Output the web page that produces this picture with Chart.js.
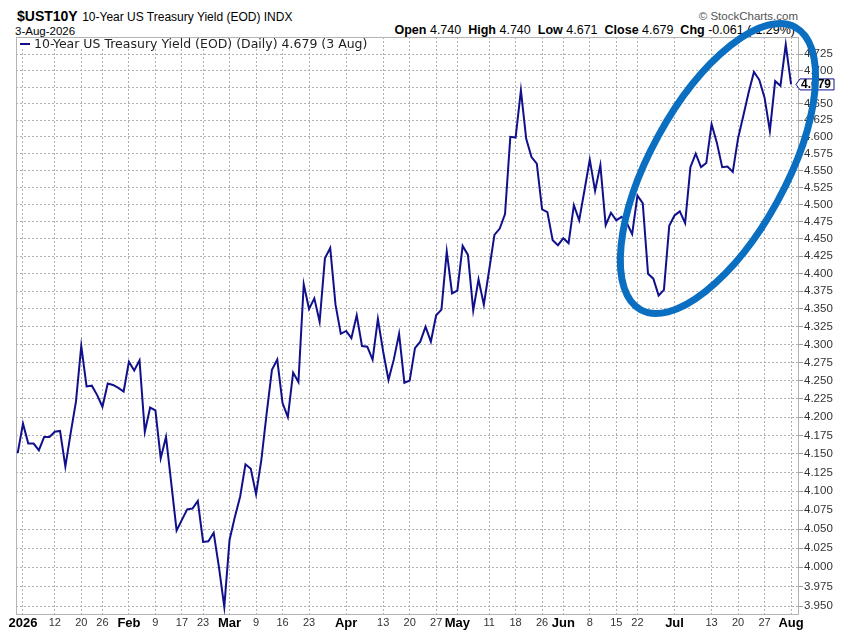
<!DOCTYPE html>
<html>
<head>
<meta charset="utf-8">
<title>$UST10Y</title>
<script src="https://cdn.jsdelivr.net/npm/chart.js@4.4.1/dist/chart.umd.min.js"></script>
<style>
    html, body { margin: 0; padding: 0; background: #fff; }
    .wrap { position: relative; width: 850px; height: 635px; font-family: "Liberation Sans", Arial, sans-serif; color: #000; overflow: hidden; }
    .wrap canvas { position: absolute; left: 0; top: 0; z-index: 1; }
    .head { position: absolute; white-space: nowrap; line-height: 16px; z-index: 0; }
    .sym { left: 17px; top: 8px; }
    .sym b { font-size: 14px; }
    .sym span { font-size: 12px; }
    .date { left: 15px; top: 23px; font-size: 11.5px; }
    .copy { right: 52px; top: 8px; font-size: 11.5px; color: #555; }
    .ohlc { right: 55px; top: 22px; font-size: 12.5px; }
    .ohlc span { margin-left: 7px; }
    .legend { position: absolute; left: 17px; top: 38px; height: 11px; line-height: 11px; padding-right: 4px;
              background: #fff; z-index: 2; white-space: nowrap; font-family: "DejaVu Sans", Verdana, sans-serif;
              font-size: 12.5px; color: #222; }
    .legend i { display: inline-block; width: 10px; height: 2px; background: #10108c; vertical-align: middle; margin: 0 4px 2px 3px; }
</style>
</head>
<body>
<div class="wrap">
    <div class="head sym"><b>$UST10Y</b> <span>10-Year US Treasury Yield (EOD) INDX</span></div>
    <div class="head date">3-Aug-2026</div>
    <div class="head copy">© StockCharts.com</div>
    <div class="head ohlc"><b>Open</b> 4.740<span><b>High</b> 4.740</span><span><b>Low</b> 4.671</span><span><b>Close</b> 4.679</span><span><b>Chg</b> -0.061 (-1.29%)</span></div>
    <div class="legend"><i></i>10-Year US Treasury Yield (EOD) (Daily) 4.679 (3 Aug)</div>
    <canvas class="chart" width="850" height="635"></canvas>
</div>
<script>
// trading days shown on the chart (bond market holidays skipped)
const dates = [
    "2025-12-31",
    "2026-01-02", "2026-01-05", "2026-01-06", "2026-01-07", "2026-01-08", "2026-01-09", "2026-01-12", "2026-01-13", "2026-01-14", "2026-01-15",
    "2026-01-16", "2026-01-20", "2026-01-21", "2026-01-22", "2026-01-23", "2026-01-26", "2026-01-27", "2026-01-28", "2026-01-29", "2026-01-30",
    "2026-02-02", "2026-02-03", "2026-02-04", "2026-02-05", "2026-02-06", "2026-02-09", "2026-02-10", "2026-02-11", "2026-02-12", "2026-02-13",
    "2026-02-17", "2026-02-18", "2026-02-19", "2026-02-20", "2026-02-23", "2026-02-24", "2026-02-25", "2026-02-26", "2026-02-27",
    "2026-03-02", "2026-03-03", "2026-03-04", "2026-03-05", "2026-03-06", "2026-03-09", "2026-03-10", "2026-03-11", "2026-03-12", "2026-03-13",
    "2026-03-16", "2026-03-17", "2026-03-18", "2026-03-19", "2026-03-20", "2026-03-23", "2026-03-24", "2026-03-25", "2026-03-26", "2026-03-27",
    "2026-03-30", "2026-03-31",
    "2026-04-01", "2026-04-02", "2026-04-06", "2026-04-07", "2026-04-08", "2026-04-09", "2026-04-10", "2026-04-13", "2026-04-14", "2026-04-15",
    "2026-04-16", "2026-04-17", "2026-04-20", "2026-04-21", "2026-04-22", "2026-04-23", "2026-04-24", "2026-04-27", "2026-04-28", "2026-04-29",
    "2026-04-30",
    "2026-05-01", "2026-05-04", "2026-05-05", "2026-05-06", "2026-05-07", "2026-05-08", "2026-05-11", "2026-05-12", "2026-05-13", "2026-05-14",
    "2026-05-15", "2026-05-18", "2026-05-19", "2026-05-20", "2026-05-21", "2026-05-22", "2026-05-26", "2026-05-27", "2026-05-28", "2026-05-29",
    "2026-06-01", "2026-06-02", "2026-06-03", "2026-06-04", "2026-06-05", "2026-06-08", "2026-06-09", "2026-06-10", "2026-06-11", "2026-06-12",
    "2026-06-15", "2026-06-16", "2026-06-17", "2026-06-18", "2026-06-22", "2026-06-23", "2026-06-24", "2026-06-25", "2026-06-26", "2026-06-29",
    "2026-06-30",
    "2026-07-01", "2026-07-02", "2026-07-06", "2026-07-07", "2026-07-08", "2026-07-09", "2026-07-10", "2026-07-13", "2026-07-14", "2026-07-15",
    "2026-07-16", "2026-07-17", "2026-07-20", "2026-07-21", "2026-07-22", "2026-07-23", "2026-07-24", "2026-07-27", "2026-07-28", "2026-07-29",
    "2026-07-30", "2026-07-31",
    "2026-08-03"
];

const yields = [
    4.151,
    4.191, 4.164, 4.164, 4.155, 4.173, 4.173, 4.180, 4.181, 4.133, 4.178,
    4.221, 4.298, 4.242, 4.243, 4.230, 4.214, 4.246, 4.244, 4.240, 4.235,
    4.276, 4.264, 4.278, 4.180, 4.213, 4.209, 4.144, 4.173, 4.110, 4.048,
    4.062, 4.076, 4.077, 4.087, 4.033, 4.034, 4.045, 4.000, 3.949,
    4.036, 4.066, 4.093, 4.136, 4.130, 4.096, 4.142, 4.205, 4.265, 4.279,
    4.219, 4.200, 4.261, 4.248, 4.385, 4.350, 4.365, 4.332, 4.422, 4.437,
    4.356, 4.315,
    4.319, 4.309, 4.341, 4.298, 4.297, 4.279, 4.336, 4.290, 4.251, 4.279,
    4.315, 4.247, 4.250, 4.295, 4.304, 4.325, 4.304, 4.341, 4.349, 4.432,
    4.372,
    4.376, 4.440, 4.427, 4.348, 4.392, 4.356, 4.405, 4.456, 4.465, 4.486,
    4.600, 4.599, 4.670, 4.597, 4.570, 4.560, 4.493, 4.489, 4.448, 4.441,
    4.451, 4.444, 4.499, 4.477, 4.521, 4.566, 4.520, 4.558, 4.470, 4.488,
    4.477, 4.482, 4.473, 4.457, 4.513, 4.502, 4.400, 4.393, 4.369, 4.377,
    4.469,
    4.484, 4.490, 4.473, 4.555, 4.575, 4.555, 4.561, 4.619, 4.591, 4.555,
    4.556, 4.548, 4.598, 4.632, 4.667, 4.698, 4.686, 4.659, 4.609, 4.684,
    4.677, 4.740,
    4.679
];

const tickDates = [
    "2026-01-02", "2026-01-12", "2026-01-20", "2026-01-26", "2026-02-02", "2026-02-09", "2026-02-17", "2026-02-23",
    "2026-03-02", "2026-03-09", "2026-03-16", "2026-03-23", "2026-04-01", "2026-04-13", "2026-04-20", "2026-04-27",
    "2026-05-01", "2026-05-11", "2026-05-18", "2026-05-26", "2026-06-01", "2026-06-08", "2026-06-15", "2026-06-22",
    "2026-07-01", "2026-07-13", "2026-07-20", "2026-07-27", "2026-08-03"
];
const tickLabels = [
    "2026", "12", "20", "26", "Feb", "9", "17", "23",
    "Mar", "9", "16", "23", "Apr", "13", "20", "27",
    "May", "11", "18", "26", "Jun", "8", "15", "22",
    "Jul", "13", "20", "27", "Aug"
];

const yTicks = [
    3.950, 3.975, 4.000, 4.025, 4.050, 4.075, 4.100, 4.125, 4.150, 4.175, 4.200, 4.225, 4.250, 4.275, 4.300, 4.325,
    4.350, 4.375, 4.400, 4.425, 4.450, 4.475, 4.500, 4.525, 4.550, 4.575, 4.600, 4.625, 4.650, 4.675, 4.700, 4.725
];

const FONT = "'Liberation Sans', Arial, sans-serif";
const NAVY = "#10108c";
const GRID = "#b0b0b0";
const isBold = l => !/^\d{1,2}$/.test(l);

const ctx = document.querySelector(".chart").getContext("2d");

// frame round the plot, last-price tag and the hand drawn ring
const overlay = {
    id: "overlay",
    beforeDatasetsDraw(chart) {
        const { ctx, chartArea: a } = chart;
        ctx.save();
        ctx.strokeStyle = "#b4b4b4";
        ctx.lineWidth = 1;
        ctx.strokeRect(a.left + 0.5, a.top + 0.5, a.right - a.left - 1, a.bottom - a.top - 1);
        ctx.restore();
    },
    afterDraw(chart) {
        const { ctx, chartArea: a, scales } = chart;
        const last = yields[yields.length - 1];
        const y = scales.y.getPixelForValue(last);
        const r = a.right;

        ctx.save();
        ctx.beginPath();
        ctx.moveTo(r - 3, y);
        ctx.lineTo(r + 1, y - 5.5);
        ctx.lineTo(r + 35, y - 5.5);
        ctx.lineTo(r + 35, y + 5.5);
        ctx.lineTo(r + 1, y + 5.5);
        ctx.closePath();
        ctx.fillStyle = "#fff";
        ctx.fill();
        ctx.strokeStyle = NAVY;
        ctx.lineWidth = 1;
        ctx.stroke();
        ctx.fillStyle = "#000";
        ctx.font = "bold 12px " + FONT;
        ctx.textBaseline = "middle";
        ctx.fillText(last.toFixed(3), r + 2, y + 0.5);

        // ring round the July climb
        const cx = scales.x.getPixelForValue(132.2);
        const cy = scales.y.getPixelForValue(4.553);
        ctx.beginPath();
        ctx.ellipse(cx, cy, 161, 68, -61.3 * Math.PI / 180, 0, Math.PI * 2);
        ctx.strokeStyle = "#0a6fc0";
        ctx.lineWidth = 7;
        ctx.stroke();
        ctx.restore();
    }
};

new Chart(ctx, {
    type: "line",
    data: {
        datasets: [{
            label: "10-Year US Treasury Yield (EOD) (Daily)",
            data: yields.map((v, i) => ({ x: i, y: v })),
            borderColor: NAVY,
            borderWidth: 2,
            pointRadius: 0,
            tension: 0
        }]
    },
    options: {
        responsive: false,
        animation: false,
        layout: { padding: { left: 16, top: 37, right: 0, bottom: 0 } },
        plugins: { legend: { display: false }, tooltip: { enabled: false } },
        scales: {
            x: {
                type: "linear",
                min: -0.32,
                max: 147.5,
                afterBuildTicks: s => { s.ticks = tickDates.map(d => ({ value: dates.indexOf(d) })); },
                afterFit: s => { s.height = 20; },
                ticks: {
                    autoSkip: false,
                    maxRotation: 0,
                    padding: 1,
                    color: c => isBold(tickLabels[c.index]) ? "#000" : "#333",
                    font: c => isBold(tickLabels[c.index])
                        ? { family: FONT, size: 13, weight: "bold" }
                        : { family: FONT, size: 11 },
                    callback: (v, i) => tickLabels[i]
                },
                grid: { color: GRID, lineWidth: 1, drawTicks: false },
                border: { display: false, dash: [2, 2] }
            },
            y: {
                type: "logarithmic",
                position: "right",
                min: 3.9385,
                max: 4.7516,
                afterBuildTicks: s => { s.ticks = yTicks.map(v => ({ value: v })); },
                afterFit: s => { s.width = 51; },
                ticks: {
                    autoSkip: false,
                    padding: 1,
                    color: "#333",
                    font: { family: FONT, size: 11.5 },
                    callback: v => Number(v).toFixed(3)
                },
                grid: { color: GRID, lineWidth: 1, tickLength: 4, tickColor: "#999" },
                border: { display: false, dash: [2, 2] }
            }
        }
    },
    plugins: [overlay]
});
</script>
</body>
</html>
